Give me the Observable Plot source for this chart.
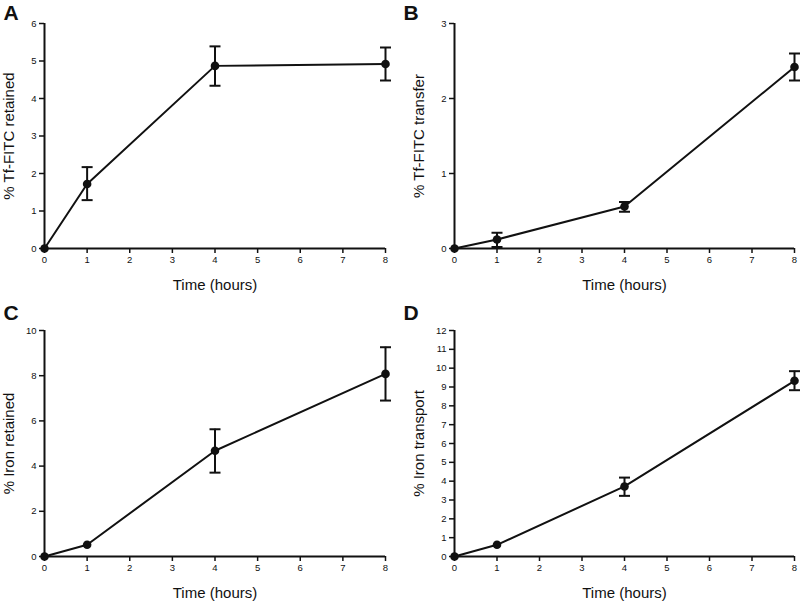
<!DOCTYPE html>
<html>
<head>
<meta charset="utf-8">
<script src="https://cdn.jsdelivr.net/npm/d3@7"></script>
<script src="https://cdn.jsdelivr.net/npm/@observablehq/plot@0.6"></script>
<style>
  body { margin: 0; background: #fff; }
  #grid { width: 800px; display: flex; flex-wrap: wrap; }
  #grid > div { width: 400px; }
  svg { display: block; }
</style>
</head>
<body>
<div id="grid"></div>
<script>
// ---- Data ----
const hours = [0, 1, 4, 8];
const xTicks = [0, 1, 2, 3, 4, 5, 6, 7, 8];
const xLabel = "Time (hours)";

const panelLetters = ["A", "B", "C", "D"];
const yLabels = ["% Tf-FITC retained", "% Tf-FITC transfer", "% Iron retained", "% Iron transport"];
const yMax = [6, 3, 10, 12];
const yTicksA = [0, 1, 2, 3, 4, 5, 6];
const yTicksB = [0, 1, 2, 3];
const yTicksC = [0, 2, 4, 6, 8, 10];
const yTicksD = [0, 1, 2, 3, 4, 5, 6, 7, 8, 9, 10, 11, 12];

const meanA = [0, 1.72, 4.87, 4.92];
const lowA  = [0, 1.29, 4.34, 4.48];
const highA = [0, 2.17, 5.39, 5.36];

const meanB = [0, 0.12, 0.56, 2.42];
const lowB  = [0, 0.02, 0.49, 2.24];
const highB = [0, 0.21, 0.62, 2.60];

const meanC = [0, 0.52, 4.68, 8.08];
const lowC  = [0, 0.52, 3.71, 6.90];
const highC = [0, 0.52, 5.63, 9.26];

const meanD = [0, 0.62, 3.72, 9.33];
const lowD  = [0, 0.62, 3.22, 8.83];
const highD = [0, 0.62, 4.19, 9.84];

// ---- Build ----
const series = [
  {mean: meanA, low: lowA, high: highA, yTicks: yTicksA},
  {mean: meanB, low: lowB, high: highB, yTicks: yTicksB},
  {mean: meanC, low: lowC, high: highC, yTicks: yTicksC},
  {mean: meanD, low: lowD, high: highD, yTicks: yTicksD}
];

// layout per panel (margins in px)
const layout = [
  {h: 300, ml: 44, mr: 15, mt: 23, mb: 52},
  {h: 300, ml: 54, mr: 6,  mt: 23, mb: 52},
  {h: 302, ml: 44, mr: 15, mt: 30, mb: 46},
  {h: 302, ml: 54, mr: 6,  mt: 30, mb: 46}
];

const capSymbol = {
  draw(context, size) {
    const w = Math.sqrt(size / Math.PI);
    context.moveTo(-w, 0);
    context.lineTo(w, 0);
  }
};

const font = "Liberation Sans, Arial, sans-serif";
const ink = "#111";
const grid = document.getElementById("grid");

series.forEach((s, i) => {
  const L = layout[i];
  const rows = hours.map((h, j) => ({x: h, y: s.mean[j], lo: s.low[j], hi: s.high[j]}));
  const withErr = rows.filter(d => d.hi > d.lo);
  const chart = Plot.plot({
    width: 400,
    height: L.h,
    marginLeft: L.ml,
    marginRight: L.mr,
    marginTop: L.mt,
    marginBottom: L.mb,
    style: {fontFamily: font, color: ink, background: "#fff", overflow: "visible"},
    x: {domain: [0, 8]},
    y: {domain: [0, yMax[i]]},
    marks: [
      Plot.axisX({ticks: xTicks, tickSize: 5, tickPadding: 3, fontSize: 9.5, strokeWidth: 1.5, stroke: ink, fill: ink, label: null, tickFormat: d => String(d)}),
      Plot.axisY({ticks: s.yTicks, tickSize: 5, tickPadding: 3, fontSize: 9.5, strokeWidth: 1.5, stroke: ink, fill: ink, label: null, tickFormat: d => String(d)}),
      Plot.ruleX([0], {stroke: ink, strokeWidth: 2}),
      Plot.ruleY([0], {stroke: ink, strokeWidth: 2}),
      Plot.line(rows, {x: "x", y: "y", stroke: ink, strokeWidth: 2}),
      Plot.ruleX(withErr, {x: "x", y1: "lo", y2: "hi", stroke: ink, strokeWidth: 2}),
      Plot.dot(withErr, {x: "x", y: "lo", symbol: capSymbol, r: 5.5, stroke: ink, strokeWidth: 2, fill: "none"}),
      Plot.dot(withErr, {x: "x", y: "hi", symbol: capSymbol, r: 5.5, stroke: ink, strokeWidth: 2, fill: "none"}),
      Plot.dot(rows, {x: "x", y: "y", r: 4.3, fill: ink, stroke: "none"}),
      Plot.text([xLabel], {frameAnchor: "bottom", dy: 37, fontSize: 15, fill: ink, lineAnchor: "middle"}),
      Plot.text([yLabels[i]], {frameAnchor: "left", dx: -35, rotate: -90, fontSize: 15, fill: ink, lineAnchor: "middle", textAnchor: "middle"}),
      Plot.text([panelLetters[i]], {frameAnchor: "top-left", dx: 3 - L.ml, dy: 5 - L.mt, fontSize: 21, fontWeight: "bold", fill: ink, textAnchor: "start", lineAnchor: "top"})
    ]
  });
  const cell = document.createElement("div");
  cell.appendChild(chart);
  grid.appendChild(cell);
});
</script>
</body>
</html>
